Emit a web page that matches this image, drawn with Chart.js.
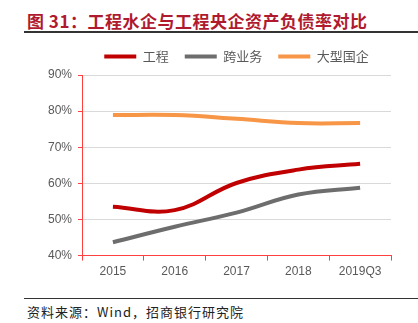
<!DOCTYPE html>
<html>
<head>
<meta charset="utf-8">
<script src="https://cdn.jsdelivr.net/npm/chart.js@4"></script>
<style>
  body { margin: 0; width: 418px; height: 323px; background: #fff; position: relative; overflow: hidden; font-family: "Noto Sans CJK SC", sans-serif; }
  #title { position: absolute; left: 27px; top: 8px; font-size: 17px; font-weight: bold; color: #b01a2e; letter-spacing: 0.5px; white-space: nowrap; }
  #rule1 { position: absolute; left: 24px; right: 0; top: 31px; border-top: 2px solid #333; }
  #rule2 { position: absolute; left: 24px; right: 0; top: 298px; border-top: 1px solid #333; }
  #source { position: absolute; left: 27px; top: 302px; font-size: 13px; color: #222; letter-spacing: 1px; white-space: nowrap; }
  #wrap { position: absolute; left: 0; top: 34px; width: 418px; height: 249px; }
</style>
</head>
<body>
<div id="title">图 31：工程水企与工程央企资产负债率对比</div>
<div id="rule1"></div>
<div id="wrap"><canvas id="chart"></canvas></div>
<div id="rule2"></div>
<div id="source">资料来源：Wind，招商银行研究院</div>
<script>
const categories = ["2015", "2016", "2017", "2018", "2019Q3"];
const engineering = [53.5, 52.6, 60.1, 63.8, 65.4];
const crossBusiness = [43.7, 48.0, 51.9, 56.9, 58.8];
const bigSOE = [78.9, 78.9, 77.9, 76.7, 76.7];
const yTicks = [40, 50, 60, 70, 80, 90];

document.addEventListener("DOMContentLoaded", function () {
    const ctx = document.getElementById("chart").getContext("2d");
    function series(label, data, color) {
        return {
            label,
            data,
            borderColor: color,
            backgroundColor: color,
            borderWidth: 4,
            pointRadius: 0,
            tension: 0.4,
            fill: false,
        };
    }
    // a bit more room under the legend, and centre it over the plot area
    const legendSpace = {
        id: "legendSpace",
        beforeInit(chart) {
            const fit = chart.legend.fit;
            chart.legend.fit = function () {
                fit.call(this);
                this.height += 2;
            };
        },
        afterLayout(chart) {
            const lg = chart.legend;
            const shift = (chart.chartArea.left + chart.chartArea.right) / 2 - (lg.left + lg.right) / 2;
            lg.left += shift;
            lg.right += shift;
        },
    };
    new Chart(ctx, {
        type: "line",
        data: {
            labels: categories,
            datasets: [
                series("工程", engineering, "#c00000"),
                series("跨业务", crossBusiness, "#6d6d6d"),
                series("大型国企", bigSOE, "#f79646"),
            ],
        },
        options: {
            responsive: true,
            maintainAspectRatio: false,
            animation: false,
            layout: { padding: { left: 42, right: 27, top: 0, bottom: 0 } },
            scales: {
                x: {
                    offset: true,
                    border: { color: "#ff4040", width: 1 },
                    grid: { offset: true, drawOnChartArea: false, drawTicks: true, tickLength: 5, tickColor: "#ff4040" },
                    ticks: { color: "#595959", font: { size: 12, family: "Liberation Sans, Arial" }, padding: 4, maxRotation: 0 },
                },
                y: {
                    min: 40,
                    max: 90,
                    afterBuildTicks: axis => { axis.ticks = yTicks.map(v => ({ value: v })); },
                    border: { color: "#ff4040", width: 1 },
                    grid: { color: "#d9d9d9", tickColor: "#ff4040", tickLength: 4 },
                    ticks: { color: "#595959", font: { size: 12, family: "Liberation Sans, Arial" }, padding: 6, callback: v => v + "%" },
                },
            },
            plugins: {
                legend: {
                    position: "top",
                    labels: {
                        usePointStyle: true,
                        pointStyle: "line",
                        pointStyleWidth: 32,
                        boxWidth: 32,
                        color: "#595959",
                        font: { size: 13, family: "Noto Sans CJK SC" },
                        padding: 16,
                    },
                },
                tooltip: { enabled: false },
            },
        },
        plugins: [legendSpace],
    });
});
</script>
</body>
</html>
